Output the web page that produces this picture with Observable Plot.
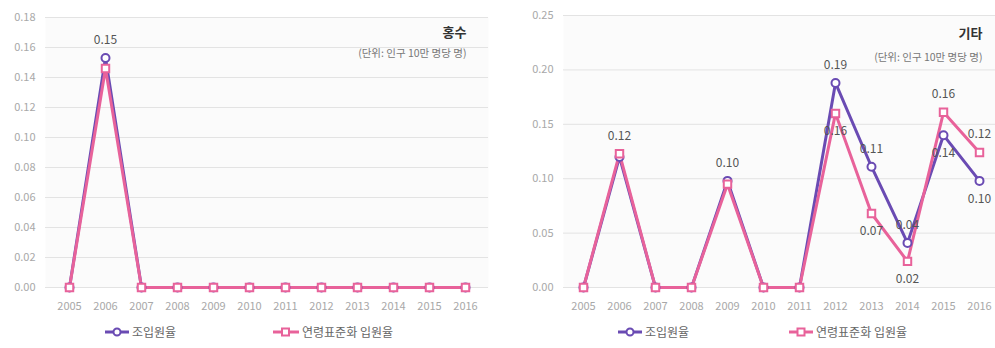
<!DOCTYPE html>
<html>
<head>
<meta charset="utf-8">
<script src="https://cdn.jsdelivr.net/npm/d3@7"></script>
<script src="https://cdn.jsdelivr.net/npm/@observablehq/plot@0.6"></script>
<style>
  html, body { margin: 0; padding: 0; background: #ffffff; }
  body { width: 995px; height: 348px; position: relative; overflow: hidden; font-family: "Noto Sans CJK KR", "Noto Sans", sans-serif; }
  .panel { position: absolute; top: 0; }
  .legend-item { position: absolute; top: 323px; display: flex; align-items: center; font-size: 12px; color: #666; white-space: nowrap; }
  .legend-item svg { margin-right: 2px; }
</style>
</head>
<body>
<div id="left" class="panel" style="left:0px"></div>
<div id="right" class="panel" style="left:500px"></div>

<div class="legend-item" style="left:104px"><svg width="26" height="12"><line x1="1" y1="6" x2="25" y2="6" stroke="#6a4bb3" stroke-width="3"/><circle cx="13" cy="6" r="3.5" fill="#fff" stroke="#6a4bb3" stroke-width="2"/></svg><span>조입원율</span></div>
<div class="legend-item" style="left:272px"><svg width="28" height="12"><line x1="1" y1="6" x2="27" y2="6" stroke="#e8629a" stroke-width="3"/><rect x="10" y="2.5" width="7" height="7" fill="#fff" stroke="#e8629a" stroke-width="2"/></svg><span>연령표준화 입원율</span></div>
<div class="legend-item" style="left:617px"><svg width="26" height="12"><line x1="1" y1="6" x2="25" y2="6" stroke="#6a4bb3" stroke-width="3"/><circle cx="13" cy="6" r="3.5" fill="#fff" stroke="#6a4bb3" stroke-width="2"/></svg><span>조입원율</span></div>
<div class="legend-item" style="left:788px"><svg width="26" height="12"><line x1="1" y1="6" x2="25" y2="6" stroke="#e8629a" stroke-width="3"/><rect x="9.5" y="2.5" width="7" height="7" fill="#fff" stroke="#e8629a" stroke-width="2"/></svg><span>연령표준화 입원율</span></div>

<script>
// ---- data ----
const years = ["2005","2006","2007","2008","2009","2010","2011","2012","2013","2014","2015","2016"];

const floodTitle = "홍수";
const floodCrude = [0, 0.153, 0, 0, 0, 0, 0, 0, 0, 0, 0, 0];
const floodStd   = [0, 0.146, 0, 0, 0, 0, 0, 0, 0, 0, 0, 0];
const floodTicks = [0, 0.02, 0.04, 0.06, 0.08, 0.10, 0.12, 0.14, 0.16, 0.18];

const otherTitle = "기타";
const otherCrude = [0, 0.120, 0, 0, 0.098, 0, 0, 0.188, 0.111, 0.041, 0.140, 0.098];
const otherStd   = [0, 0.123, 0, 0, 0.095, 0, 0, 0.160, 0.068, 0.024, 0.161, 0.124];
const otherTicks = [0, 0.05, 0.10, 0.15, 0.20, 0.25];

const unitText = "(단위: 인구 10만 명당 명)";

const purple = "#6a4bb3";
const pink = "#e8629a";
const fmt = d3.format(".2f");

function panel({crude, std, ticks, title, width, mLeft, mRight, mTop, inL, inR, tdx, tdy, sdy}) {
  const data = years.map((year, i) => ({year, crude: crude[i], std: std[i]}));
  const labels = [];
  data.forEach(d => {
    const same = fmt(d.crude) === fmt(d.std);
    if (d.crude > 0) labels.push({year: d.year, v: Math.max(d.crude, same ? d.std : 0), text: fmt(d.crude), above: same || d.crude >= d.std});
    if (d.std > 0 && !same) labels.push({year: d.year, v: d.std, text: fmt(d.std), above: d.std > d.crude});
  });
  const above = labels.filter(d => d.above);
  const below = labels.filter(d => !d.above);
  return Plot.plot({
    width, height: 320,
    marginLeft: mLeft, marginRight: mRight, marginTop: mTop, marginBottom: 33,
    style: {fontFamily: '"Noto Sans CJK KR", "Noto Sans", sans-serif', fontSize: "11px", background: "transparent", overflow: "visible"},
    x: {type: "point", domain: years, padding: 0, insetLeft: inL, insetRight: inR, label: null},
    y: {domain: [0, ticks[ticks.length - 1]], label: null},
    marks: [
      Plot.frame({fill: "#fbfbfb", stroke: null}),
      Plot.gridY(ticks, {stroke: "#e3e3e3", strokeOpacity: 1}),
      Plot.axisY(ticks, {tickSize: 0, tickPadding: 10, tickFormat: fmt, fill: "#a8a8a8", label: null}),
      Plot.axisX({tickSize: 0, tickPadding: 15, fill: "#a8a8a8", label: null}),
      Plot.line(data, {x: "year", y: "crude", stroke: purple, strokeWidth: 3}),
      Plot.line(data, {x: "year", y: "std", stroke: pink, strokeWidth: 3}),
      Plot.dot(data, {x: "year", y: "crude", r: 4, stroke: purple, fill: "white", strokeWidth: 2}),
      Plot.dot(data, {x: "year", y: "std", symbol: "square", r: 4.2, stroke: pink, fill: "white", strokeWidth: 2}),
      Plot.text(above, {x: "year", y: "v", text: "text", dy: -18, fill: "#555", fontSize: 12}),
      Plot.text(below, {x: "year", y: "v", text: "text", dy: 18, fill: "#555", fontSize: 12}),
      Plot.text([title], {frameAnchor: "top-right", dx: tdx, dy: tdy, lineAnchor: "middle", fontWeight: "bold", fontSize: 13, fill: "#333"}),
      Plot.text([unitText], {frameAnchor: "top-right", dx: tdx, dy: sdy, lineAnchor: "middle", fontSize: 10.5, fill: "#777"})
    ]
  });
}

document.getElementById("left").append(panel({
  crude: floodCrude, std: floodStd, ticks: floodTicks, title: floodTitle,
  width: 495, mLeft: 45, mRight: 7, mTop: 17, inL: 21, inR: 20.5, tdx: -22, tdy: 15, sdy: 36
}));
document.getElementById("right").append(panel({
  crude: otherCrude, std: otherStd, ticks: otherTicks, title: otherTitle,
  width: 495, mLeft: 63, mRight: 0, mTop: 15, inL: 16, inR: 12.5, tdx: -13, tdy: 18, sdy: 42
}));
</script>
</body>
</html>
